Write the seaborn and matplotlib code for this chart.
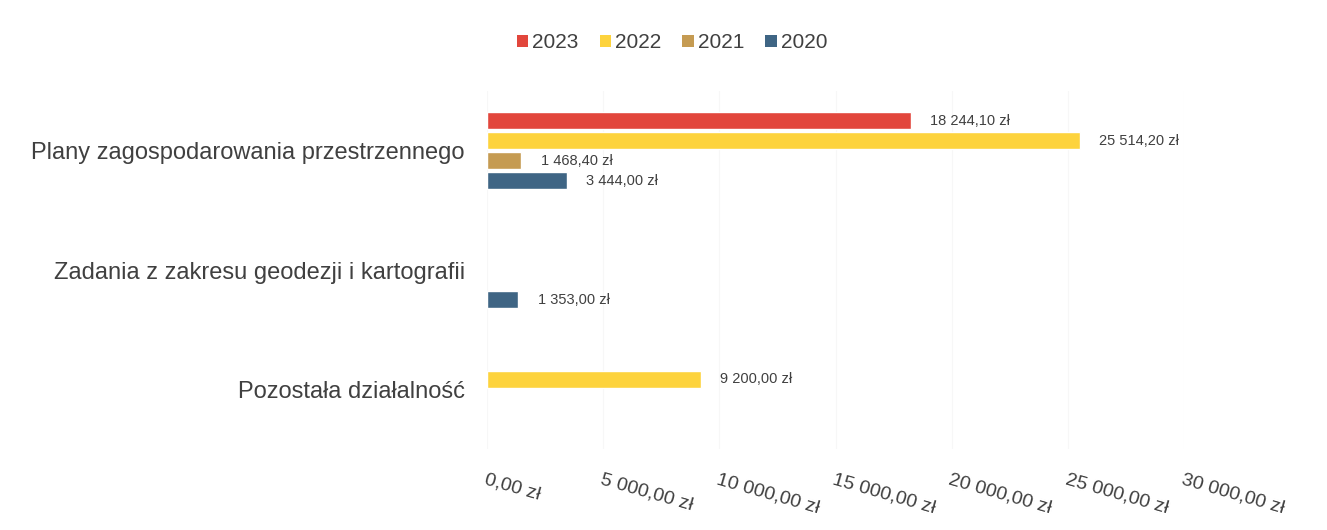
import numpy as np
import pandas as pd
import matplotlib
matplotlib.use("Agg")
import matplotlib.pyplot as plt
import seaborn as sns
from matplotlib.patches import Patch

categories = ["Plany zagospodarowania przestrzennego",
              "Zadania z zakresu geodezji i kartografii",
              "Pozostała działalność"]
years = ["2023", "2022", "2021", "2020"]
vals_2023 = [18244.10, np.nan, np.nan]
vals_2022 = [25514.20, np.nan, 9200.00]
vals_2021 = [1468.40, np.nan, np.nan]
vals_2020 = [3444.00, 1353.00, np.nan]
xticks = [0, 5000, 10000, 15000, 20000, 25000, 30000]

colors = ["#E2463C", "#FDD33D", "#C59B52", "#3F6584"]
text_color = "#404040"

rows = []
for yr, vals in zip(years, [vals_2023, vals_2022, vals_2021, vals_2020]):
    for c, v in zip(categories, vals):
        if not np.isnan(v):
            rows.append({"category": c, "year": yr, "value": v})
df = pd.DataFrame(rows)

sns.set_theme(style="white")
plt.rcParams['font.family'] = ['Liberation Sans', 'DejaVu Sans']

fig = plt.figure(figsize=(13.27, 5.30), dpi=100)
ax = fig.add_axes([487/1327, 1-449/530, (1184-487)/1327, (449-91)/530])

sns.barplot(data=df, y="category", x="value", hue="year", order=categories,
            hue_order=years, palette=colors, orient="h", width=0.67, gap=0.15,
            ax=ax, legend=False, saturation=1, err_kws={"linewidth": 0})

def fmt(v):
    s = f"{v:,.2f}"
    return s.replace(",", " ").replace(".", ",") + " zł"

for cont in ax.containers:
    for bar in cont:
        w = bar.get_width()
        if np.isnan(w) or w <= 0:
            continue
        y = bar.get_y() + bar.get_height() / 2
        ax.annotate(fmt(w), xy=(w, y), xytext=(14, 0), textcoords="offset points",
                    va="center", ha="left", fontsize=10.5, color=text_color)

ax.set_xlim(0, 30000)
ax.set_xticks(xticks)
ax.set_xticklabels([fmt(t) for t in xticks], rotation=-16, ha="left",
                   rotation_mode="anchor", fontsize=14, color=text_color)
ax.tick_params(axis="x", length=0, pad=16)
ax.tick_params(axis="y", length=0, pad=16, labelsize=17, labelcolor=text_color)
ax.set_xlabel("")
ax.set_ylabel("")
ax.grid(axis="x", color="#f7f7f7", linewidth=0.8)
ax.set_axisbelow(True)
for s in ax.spines.values():
    s.set_visible(False)

handles = [Patch(facecolor=c, edgecolor="none", label=y) for c, y in zip(colors, years)]
fig.legend(handles=handles, loc="center", bbox_to_anchor=(672/1327, 1-43/530), ncol=4,
           frameon=False, fontsize=15, handlelength=0.55, handleheight=0.55,
           handletextpad=0.2, columnspacing=1.0, labelcolor=text_color)

fig.savefig("out.png", dpi=100, facecolor="white")
